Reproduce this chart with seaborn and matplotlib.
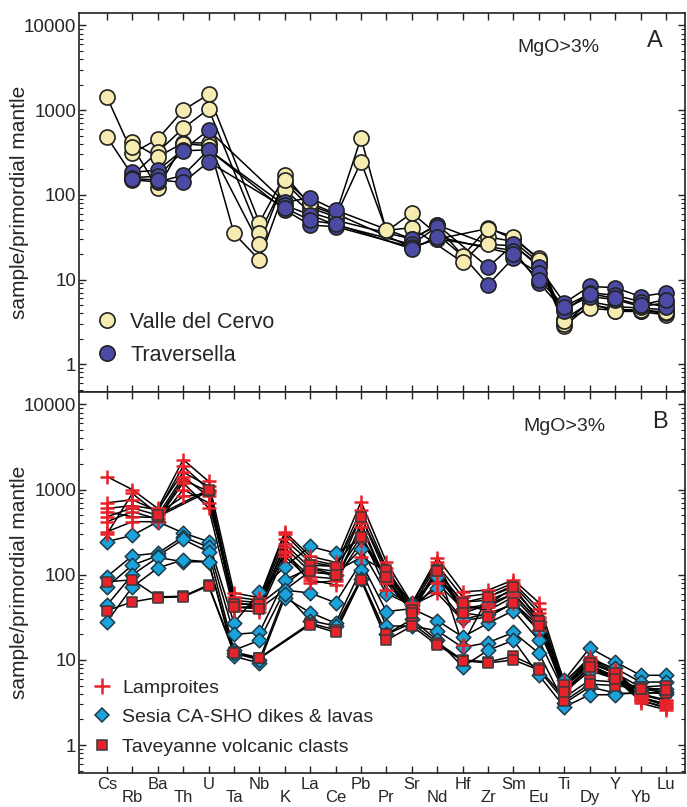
import numpy as np
import pandas as pd
import matplotlib
matplotlib.use("Agg")
import matplotlib.pyplot as plt
from matplotlib.lines import Line2D
from matplotlib.ticker import LogLocator, NullFormatter, FixedLocator
import seaborn as sns

sns.set_style("white")
plt.rcParams['font.family'] = ['Liberation Sans', 'DejaVu Sans']

n = np.nan
elements = ["Cs", "Rb", "Ba", "Th", "U", "Ta", "Nb", "K", "La", "Ce", "Pb", "Pr",
            "Sr", "Nd", "Hf", "Zr", "Sm", "Eu", "Ti", "Dy", "Y", "Yb", "Lu"]

# Panel A
valle_1 = [1420, 310, 455, 1000, 1530, n, 47, 170, 75, 58, 470, 37, 61, n, 19, 41, 30, 18, 3.4, 5.3, 4.2, 4.2, 3.8]
valle_2 = [480, 170, 320, 610, 1030, n, 35, 142, 70, 55, 245, 38, 41, n, 16, 32, 28, 16, 2.8, 5.0, 4.5, 4.3, 4.0]
valle_3 = [n, 415, 280, 410, 410, 35, 17, 115, 62, 50, n, n, 30, 44, n, 26, 25, 15, 3.0, 5.5, 4.8, 4.6, 4.4]
valle_4 = [n, 370, 120, 400, 380, n, 26, 150, 80, 60, n, n, 24, 30, n, 40, 32, 17, 3.2, 4.6, 4.3, 4.4, 4.1]
trav_1 = [n, 185, 195, 340, 580, n, n, 82, 92, 66, n, n, 30, 44, n, 14, 26, 14, 5.3, 8.3, 8.0, 6.3, 7.0]
trav_2 = [n, 160, 165, 330, 340, n, n, 75, 58, 44, n, n, 26, 42, n, 8.7, 18, 12, 4.5, 6.3, 5.8, 4.8, 5.3]
trav_3 = [n, 150, 142, 170, 340, n, n, 66, 44, 42, n, n, 24, 30, n, n, 22, 9.2, 4.2, 7.0, 6.5, 5.5, 4.7]
trav_4 = [n, 155, 150, 140, 245, n, n, 70, 50, 45, n, n, 23, 32, n, n, 20, 10, 4.8, 6.8, 6.0, 5.0, 5.8]

# Panel B
lamp_1 = [1420, 1000, 600, 2250, 1250, 61, 54, 320, 165, 140, 720, 140, 46, 158, 63, 66, 87, 47, 5.4, 10.8, 7.6, 3.1, 2.6]
lamp_2 = [700, 760, 560, 1880, 1000, 50, 47, 260, 140, 125, 580, 120, 42, 130, 55, 60, 80, 40, 5.0, 9.5, 7.0, 3.7, 3.0]
lamp_3 = [480, 610, 500, 1420, 830, 45, 45, 210, 108, 100, 480, 100, 40, 108, 48, 50, 66, 32, 4.8, 8.5, 6.5, 3.5, 3.1]
lamp_4 = [420, 550, 450, 1200, 610, 38, 37, 165, 87, 76, 410, 80, 38, 80, 40, 42, 60, 28, 4.5, 8.0, 6.0, 3.3, 2.8]
lamp_5 = [320, 420, 420, 1000, 700, 55, 50, 300, 150, 130, 310, 66, 44, 61, 29, 32, 47, 22.5, 5.2, 9.0, 7.2, 3.9, 3.3]
lamp_6 = [300, 900, 520, 830, 900, 42, 40, 190, 80, 85, 250, 90, 36, 120, 15, 55, 75, 36, 4.2, 7.5, 6.8, 3.6, 2.9]
lamp_7 = [600, 650, 580, 1600, 1100, 48, 42, 230, 120, 110, 160, 110, 46, 140, 35, 45, 70, 30, 5.6, 10.0, 7.3, 4.0, 3.4]
lamp_8 = [550, 480, 470, 1300, 950, 40, 44, 180, 95, 90, 360, 85, 41, 100, 44, 38, 55, 26, 4.9, 8.8, 6.2, 3.4, 2.7]
sesia_1 = [245, 290, 420, 310, 245, 27, 63, 125, 215, 180, 260, 95, 47, 95, 40, 45, 60, 28, 5.8, 13.8, 9.5, 6.6, 6.6]
sesia_2 = [95, 167, 180, 280, 210, 20, 21, 87, 120, 100, 200, 60, 44, 70, 30, 35, 45, 22, 5.0, 10.0, 8.0, 5.5, 5.5]
sesia_3 = [72, 130, 167, 260, 185, 13, 17, 66, 61, 47, 140, 37, 40, 29, 18.6, 27, 38, 17, 4.2, 7.5, 6.0, 4.5, 4.6]
sesia_4 = [44, 100, 160, 142, 142, 11, 9.2, 54, 36, 27, 115, 25, 25, 22, 14, 16, 21, 12, 3.1, 4.8, 4.1, 4.0, 4.2]
sesia_5 = [28, 72, 120, 150, 142, 12, 10, 60, 29, 25, 90, 20, 30, 17, 8.3, 13, 17, 6.6, 2.8, 3.9, 3.9, 4.2, 4.0]
tav_1 = [83, 87, 55, 56, 76, 12.4, 10.6, n, 27, 22.5, 87, 20, 27, 16, 10, 9.5, 11, 8.0, 3.6, 5.8, 5.5, 4.8, 4.4]
tav_2 = [38, 48, 54, 55, 74, 12, 10.4, n, 26, 21, 87, 17, 25, 15, 9.8, 9.2, 10, 7.6, 3.3, 5.2, 5.0, 4.6, 4.1]
tav_3 = [n, n, 480, n, 950, 45, 45, n, 130, 125, 480, 114, 39, 114, 47, 55, 72, 29, 5.1, 9.2, 7.0, 4.8, 5.0]
tav_4 = [n, n, 500, n, 1000, 42, 40, n, 110, 100, 280, 95, 36, 110, 36, 32, 47, 25, 4.2, 8.3, 6.0, 4.5, 4.4]

YELLOW = "#F6EBB0"
NAVY = "#4B4BA6"
CYAN = "#1AA2DA"
RED = "#E8222A"

groups_a = [
    ("Valle del Cervo", [valle_1, valle_2, valle_3, valle_4],
     dict(marker="o", s=118, color=YELLOW, edgecolor="#222222", linewidth=1.2)),
    ("Traversella", [trav_1, trav_2, trav_3, trav_4],
     dict(marker="o", s=118, color=NAVY, edgecolor="#222222", linewidth=1.2)),
]
groups_b = [
    ("Sesia CA-SHO dikes & lavas", [sesia_1, sesia_2, sesia_3, sesia_4, sesia_5],
     dict(marker="D", s=55, color=CYAN, edgecolor="#1f3a4a", linewidth=1.1)),
    ("Lamproites", [lamp_1, lamp_2, lamp_3, lamp_4, lamp_5, lamp_6, lamp_7, lamp_8],
     dict(marker="+", s=90, color=RED, linewidth=1.8)),
    ("Taveyanne volcanic clasts", [tav_1, tav_2, tav_3, tav_4],
     dict(marker="s", s=55, color=RED, edgecolor="#3a3a3a", linewidth=1.1)),
]


def long_df(name, samples):
    rows = []
    for k, vals in enumerate(samples):
        for i, v in enumerate(vals):
            if not np.isnan(v):
                rows.append(dict(sample=f"{name}_{k}", idx=i, value=v))
    return pd.DataFrame(rows)


fig = plt.figure(figsize=(6.87, 8.07), dpi=100)
ax_a = fig.add_axes([79 / 687, 1 - 392 / 807, 606 / 687, 379 / 807])
ax_b = fig.add_axes([79 / 687, 1 - 773 / 807, 606 / 687, 381 / 807])


def draw(ax, groups):
    ax.set_yscale("log")
    for name, samples, style in groups:
        df = long_df(name, samples)
        sns.lineplot(data=df, x="idx", y="value", units="sample", estimator=None,
                     color="black", linewidth=1.1, sort=False, legend=False, ax=ax, zorder=2)
        sns.scatterplot(data=df, x="idx", y="value", legend=False, ax=ax, zorder=3, **style)
    ax.set_xlim(-1.1, 22.75)
    ax.set_ylim(0.47, 14000)
    ax.set_xlabel("")
    ax.set_ylabel("sample/primordial mantle", fontsize=15)
    ax.yaxis.set_label_coords(-0.083, 0.5)
    ax.xaxis.set_major_locator(FixedLocator(range(len(elements))))
    ax.yaxis.set_minor_locator(LogLocator(base=10, subs=np.arange(2, 10), numticks=20))
    ax.yaxis.set_minor_formatter(NullFormatter())
    ax.set_yticks([1, 10, 100, 1000, 10000])
    ax.set_yticklabels(["1", "10", "100", "1000", "10000"])
    ax.tick_params(axis="both", which="both", direction="in", top=True, right=True,
                   bottom=True, left=True, color="#222222")
    ax.tick_params(axis="both", which="major", length=5, width=1.0, pad=2)
    ax.tick_params(axis="y", which="major", labelsize=13.5)
    ax.tick_params(axis="y", which="minor", length=3, width=0.8)
    for sp in ax.spines.values():
        sp.set_color("#222222")
        sp.set_linewidth(1.2)


draw(ax_a, groups_a)
draw(ax_b, groups_b)

ax_a.set_xticklabels([])
labels = [e if i % 2 == 0 else "\n" + e for i, e in enumerate(elements)]
ax_b.set_xticklabels(labels)
for t in ax_b.get_xticklabels():
    t.set_linespacing(0.86)
ax_b.tick_params(axis="x", which="major", pad=3, labelsize=12)

# annotations
ax_a.text(0.723, 0.897, "MgO>3%", transform=ax_a.transAxes, fontsize=14, ha="left", va="baseline")
ax_a.text(0.937, 0.910, "A", transform=ax_a.transAxes, fontsize=17, ha="left", va="baseline")
ax_b.text(0.733, 0.898, "MgO>3%", transform=ax_b.transAxes, fontsize=14, ha="left", va="baseline")
ax_b.text(0.946, 0.906, "B", transform=ax_b.transAxes, fontsize=17, ha="left", va="baseline")

# legends
h_a = [Line2D([], [], ls="none", marker="o", markersize=11, markerfacecolor=YELLOW,
              markeredgecolor="#222222", markeredgewidth=1.2),
       Line2D([], [], ls="none", marker="o", markersize=11, markerfacecolor=NAVY,
              markeredgecolor="#222222", markeredgewidth=1.2)]
ax_a.legend(h_a, ["Valle del Cervo", "Traversella"], loc="lower left",
            bbox_to_anchor=(0.025, 0.0686), frameon=False, fontsize=15.5,
            handletextpad=0.47, labelspacing=0.56, borderpad=0, borderaxespad=0,
            handlelength=1.2)

h_b = [Line2D([], [], ls="none", marker="+", markersize=11, markeredgecolor=RED,
              markeredgewidth=1.8),
       Line2D([], [], ls="none", marker="D", markersize=7.5, markerfacecolor=CYAN,
              markeredgecolor="#1f3a4a", markeredgewidth=1.1),
       Line2D([], [], ls="none", marker="s", markersize=7.5, markerfacecolor=RED,
              markeredgecolor="#3a3a3a", markeredgewidth=1.1)]
ax_b.legend(h_b, ["Lamproites", "Sesia CA-SHO dikes & lavas", "Taveyanne volcanic clasts"],
            loc="lower left", bbox_to_anchor=(0.019, 0.045), frameon=False, fontsize=14,
            handletextpad=0.43, labelspacing=0.62, borderpad=0, borderaxespad=0,
            handlelength=1.2)

fig.savefig("out.png", dpi=100)
